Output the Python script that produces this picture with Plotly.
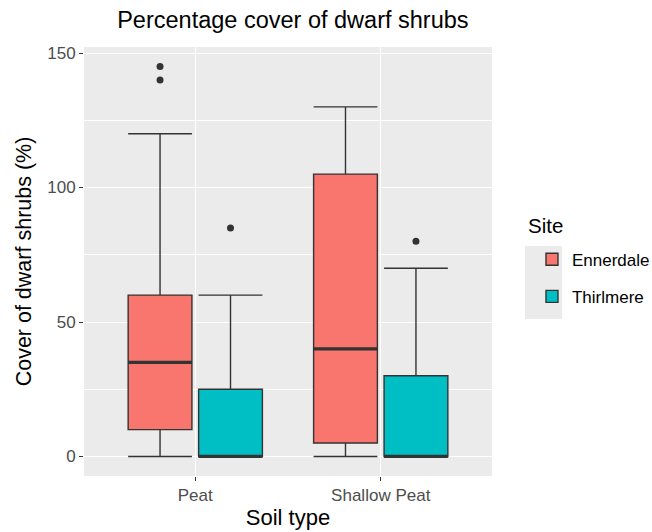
import plotly.graph_objects as go

soil_types = ["Peat", "Shallow Peat"]
sites = ["Ennerdale", "Thirlmere"]

enn_q1 = [10, 5]
enn_median = [35, 40]
enn_q3 = [60, 105]
enn_low = [0, 0]
enn_up = [120, 130]
enn_out_x = ["Peat", "Peat"]
enn_out_y = [145, 140]

thi_q1 = [0, 0]
thi_median = [0, 0]
thi_q3 = [25, 30]
thi_low = [0, 0]
thi_up = [60, 70]
thi_out_x = ["Peat", "Shallow Peat"]
thi_out_y = [85, 80]

colors = {"Ennerdale": "#F8766D", "Thirlmere": "#00BFC4"}
FONT = "Liberation Sans, Arial, sans-serif"

fig = go.Figure()
stats = {
    "Ennerdale": (enn_q1, enn_median, enn_q3, enn_low, enn_up, enn_out_x, enn_out_y),
    "Thirlmere": (thi_q1, thi_median, thi_q3, thi_low, thi_up, thi_out_x, thi_out_y),
}
for s in sites:
    q1, med, q3, lo, up, ox, oy = stats[s]
    fig.add_trace(go.Box(
        name=s, x=soil_types, q1=q1, median=med, q3=q3,
        lowerfence=lo, upperfence=up,
        fillcolor=colors[s], line=dict(color="#333333", width=1.4),
        whiskerwidth=1, offsetgroup=s, legendgroup=s, boxpoints=False,
    ))
# thick median lines (ggplot fatten)
for s in sites:
    q1, med, q3, lo, up, ox, oy = stats[s]
    fig.add_trace(go.Box(
        name=s, x=soil_types, q1=med, median=med, q3=med,
        lowerfence=med, upperfence=med,
        fillcolor="rgba(0,0,0,0)", line=dict(color="#333333", width=3.2),
        whiskerwidth=1, offsetgroup=s, legendgroup=s, boxpoints=False,
        showlegend=False, hoverinfo="skip",
    ))
for s in sites:
    q1, med, q3, lo, up, ox, oy = stats[s]
    fig.add_trace(go.Scatter(
        x=ox, y=oy, mode="markers", offsetgroup=s, legendgroup=s,
        showlegend=False, marker=dict(color="#333333", size=7),
        hoverinfo="skip",
    ))

# gray legend key background
fig.add_shape(type="rect", xref="paper", yref="paper",
              x0=1.081, x1=1.172, y0=0.366, y1=0.536,
              fillcolor="#EBEBEB", line=dict(width=0), layer="below")

fig.add_annotation(text="Site", xref="paper", yref="paper",
                   x=1.084, y=0.585, xanchor="left", yanchor="middle",
                   showarrow=False, font=dict(size=20.5, color="black"))

fig.update_layout(
    width=652, height=532,
    margin=dict(l=84, r=160, t=47, b=56, autoexpand=False),
    paper_bgcolor="white", plot_bgcolor="#EBEBEB",
    boxmode="group", boxgap=0.24, boxgroupgap=0.095,
    scattermode="group", scattergap=0.24,
    font=dict(family=FONT, color="black"),
    title=dict(text="Percentage cover of dwarf shrubs", x=0.512, xref="paper",
               xanchor="center", y=0.962, yanchor="middle",
               font=dict(size=23.5, color="black")),
    legend=dict(font=dict(size=17), x=1.098, xanchor="left",
                y=0.546, yanchor="top", tracegroupgap=12,
                bgcolor="rgba(0,0,0,0)"),
    showlegend=True,
)
fig.update_xaxes(
    title=dict(text="Soil type", font=dict(size=22), standoff=5),
    range=[-0.6, 1.6], automargin=False,
    showgrid=True, gridcolor="white", gridwidth=1.3,
    ticks="outside", ticklen=4, tickcolor="#333333",
    tickfont=dict(size=17, color="#4D4D4D"),
    zeroline=False, showline=False,
)
fig.update_yaxes(
    title=dict(text="Cover of dwarf shrubs (%)", font=dict(size=21.5), standoff=9),
    range=[-7.25, 152.25], tickvals=[0, 50, 100, 150], automargin=False,
    showgrid=True, gridcolor="white", gridwidth=1.3,
    minor=dict(tickvals=[25, 75, 125], showgrid=True, gridcolor="white", gridwidth=0.6),
    ticks="outside", ticklen=4, tickcolor="#333333",
    tickfont=dict(size=17, color="#4D4D4D"),
    zeroline=False, showline=False,
)
fig.write_html("out.html")
